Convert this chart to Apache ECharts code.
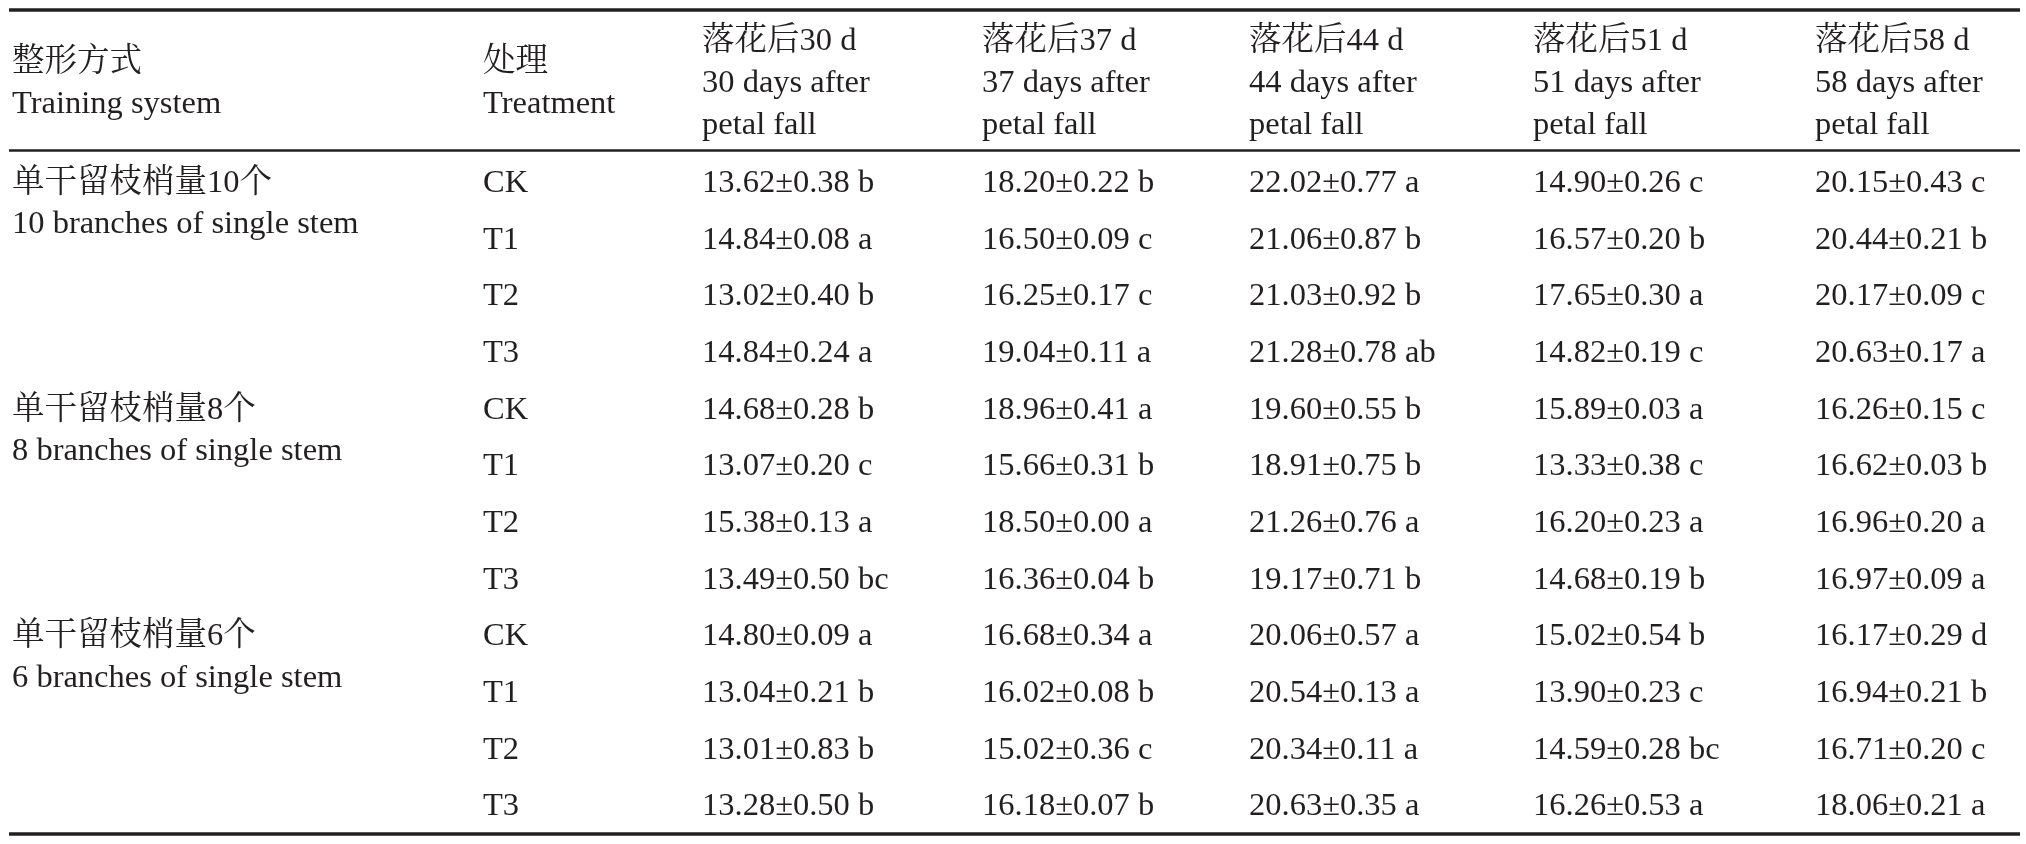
<!DOCTYPE html>
<html>
<head>
<meta charset="utf-8">
<script src="https://cdn.jsdelivr.net/npm/echarts@6/dist/echarts.min.js"></script>
<style>
html,body{margin:0;padding:0;background:#ffffff;}
#c{width:2026px;height:844px;}
</style>
</head>
<body>
<div id="c"></div>
<script>
// ---------------- data ----------------
const trainingCN = ['单干留枝梢量10个', '单干留枝梢量8个', '单干留枝梢量6个'];
const trainingEN = ['10 branches of single stem', '8 branches of single stem', '6 branches of single stem'];
const treatments = ['CK', 'T1', 'T2', 'T3'];
const days = [30, 37, 44, 51, 58];

const mean30 = [13.62, 14.84, 13.02, 14.84, 14.68, 13.07, 15.38, 13.49, 14.80, 13.04, 13.01, 13.28];
const sd30   = [0.38, 0.08, 0.40, 0.24, 0.28, 0.20, 0.13, 0.50, 0.09, 0.21, 0.83, 0.50];
const sig30  = ['b', 'a', 'b', 'a', 'b', 'c', 'a', 'bc', 'a', 'b', 'b', 'b'];

const mean37 = [18.20, 16.50, 16.25, 19.04, 18.96, 15.66, 18.50, 16.36, 16.68, 16.02, 15.02, 16.18];
const sd37   = [0.22, 0.09, 0.17, 0.11, 0.41, 0.31, 0.00, 0.04, 0.34, 0.08, 0.36, 0.07];
const sig37  = ['b', 'c', 'c', 'a', 'a', 'b', 'a', 'b', 'a', 'b', 'c', 'b'];

const mean44 = [22.02, 21.06, 21.03, 21.28, 19.60, 18.91, 21.26, 19.17, 20.06, 20.54, 20.34, 20.63];
const sd44   = [0.77, 0.87, 0.92, 0.78, 0.55, 0.75, 0.76, 0.71, 0.57, 0.13, 0.11, 0.35];
const sig44  = ['a', 'b', 'b', 'ab', 'b', 'b', 'a', 'b', 'a', 'a', 'a', 'a'];

const mean51 = [14.90, 16.57, 17.65, 14.82, 15.89, 13.33, 16.20, 14.68, 15.02, 13.90, 14.59, 16.26];
const sd51   = [0.26, 0.20, 0.30, 0.19, 0.03, 0.38, 0.23, 0.19, 0.54, 0.23, 0.28, 0.53];
const sig51  = ['c', 'b', 'a', 'c', 'a', 'c', 'a', 'b', 'b', 'c', 'bc', 'a'];

const mean58 = [20.15, 20.44, 20.17, 20.63, 16.26, 16.62, 16.96, 16.97, 16.17, 16.94, 16.71, 18.06];
const sd58   = [0.43, 0.21, 0.09, 0.17, 0.15, 0.03, 0.20, 0.09, 0.29, 0.21, 0.20, 0.21];
const sig58  = ['c', 'b', 'c', 'a', 'c', 'b', 'a', 'a', 'd', 'b', 'c', 'a'];

// ---------------- layout / style ----------------
const INK = '#231f20';
const FONT = "'Liberation Serif','Times New Roman','Noto Serif CJK SC','Noto Sans CJK SC',serif";
const FONT_SIZE = 32.5;
const COL_LEFT = [12, 483, 702, 982, 1249, 1533, 1815];   // column left edges (x-axis units)
const HEADER_LH = 41.7;
const GROUP_LH = 41.5;

// ---------------- build cells ----------------
const dayCols = [
  {mean: mean30, sd: sd30, sig: sig30},
  {mean: mean37, sd: sd37, sig: sig37},
  {mean: mean44, sd: sd44, sig: sig44},
  {mean: mean51, sd: sd51, sig: sig51},
  {mean: mean58, sd: sd58, sig: sig58}
];

const rowKeys = [];
trainingCN.forEach((cn, g) => treatments.forEach(t => rowKeys.push(g + '-' + t)));

const headerCells = [];
headerCells.push([COL_LEFT[0], 'header', '整形方式\nTraining system']);
headerCells.push([COL_LEFT[1], 'header', '处理\nTreatment']);
days.forEach((d, k) => headerCells.push([COL_LEFT[2 + k], 'header', '落花后' + d + ' d\n' + d + ' days after\npetal fall']));

const bodyCells = [];
trainingCN.forEach((cn, g) => bodyCells.push([COL_LEFT[0], rowKeys[g * treatments.length], cn + '\n' + trainingEN[g]]));
rowKeys.forEach((key, r) => {
  bodyCells.push([COL_LEFT[1], key, treatments[r % treatments.length]]);
  dayCols.forEach((col, k) => {
    bodyCells.push([COL_LEFT[2 + k], key,
      col.mean[r].toFixed(2) + '±' + col.sd[r].toFixed(2) + ' ' + col.sig[r]]);
  });
});

function makeRender(cells, lineHeight, mode) {
  return function (params, api) {
    const cell = cells[params.dataIndex];
    const p = api.coord([api.value(0), api.value(1)]);
    return {
      type: 'text',
      x: p[0],
      y: mode === 'top' ? p[1] - lineHeight / 2 : p[1],
      style: {
        text: cell[2],
        fill: INK,
        fontSize: FONT_SIZE,
        fontFamily: FONT,
        align: 'left',
        verticalAlign: mode === 'top' ? 'top' : 'middle',
        lineHeight: lineHeight
      }
    };
  };
}

const hiddenAxis = {
  axisLine: {show: false}, axisTick: {show: false},
  axisLabel: {show: false}, splitLine: {show: false}
};

const chart = echarts.init(document.getElementById('c'), null, {renderer: 'canvas'});
chart.setOption({
  backgroundColor: '#ffffff',
  animation: false,
  grid: [
    {left: 0, right: 0, top: 21, height: 125},
    {left: 0, right: 0, top: 155, bottom: 9}
  ],
  xAxis: [
    Object.assign({type: 'value', gridIndex: 0, min: 0, max: 2026}, hiddenAxis),
    Object.assign({type: 'value', gridIndex: 1, min: 0, max: 2026}, hiddenAxis)
  ],
  yAxis: [
    Object.assign({type: 'category', gridIndex: 0, data: ['header'], inverse: true}, hiddenAxis),
    Object.assign({type: 'category', gridIndex: 1, data: rowKeys, inverse: true}, hiddenAxis)
  ],
  series: [
    {
      type: 'custom', xAxisIndex: 0, yAxisIndex: 0, silent: true, clip: false,
      data: headerCells.map(c => [c[0], c[1]]),
      renderItem: makeRender(headerCells, HEADER_LH, 'middle')
    },
    {
      type: 'custom', xAxisIndex: 1, yAxisIndex: 1, silent: true, clip: false,
      data: bodyCells.map(c => [c[0], c[1]]),
      renderItem: makeRender(bodyCells, GROUP_LH, 'top')
    }
  ],
  graphic: [
    {type: 'line', shape: {x1: 9, y1: 10, x2: 2020, y2: 10}, style: {stroke: INK, lineWidth: 3.6}, silent: true},
    {type: 'line', shape: {x1: 9, y1: 150.5, x2: 2020, y2: 150.5}, style: {stroke: INK, lineWidth: 2.4}, silent: true},
    {type: 'line', shape: {x1: 9, y1: 834, x2: 2020, y2: 834}, style: {stroke: INK, lineWidth: 3.6}, silent: true}
  ]
});
</script>
</body>
</html>
